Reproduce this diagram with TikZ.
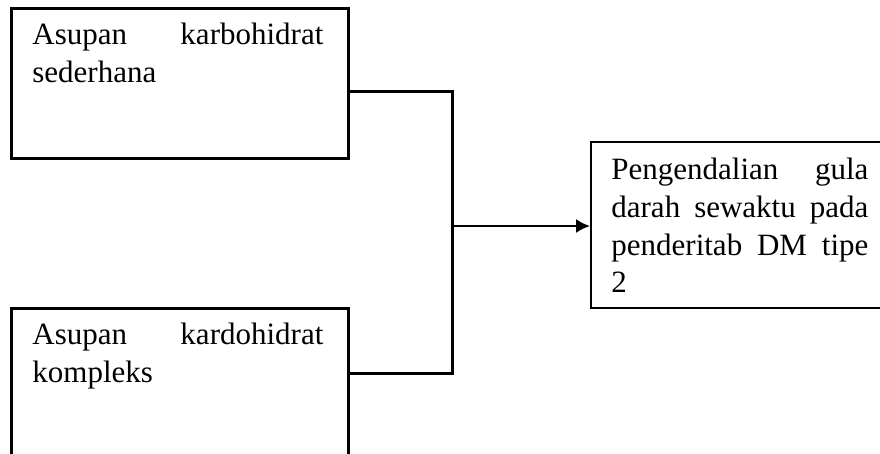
\documentclass[tikz,border=0pt]{standalone}
\usepackage{fontspec}
\setmainfont{Liberation Serif}
\usetikzlibrary{arrows.meta}

\begin{document}
\begin{tikzpicture}[x=0.5pt,y=-0.5pt,>={Latex[length=7pt,width=7pt]},
        box/.style={draw, line width=1.4pt, inner sep=0pt, anchor=north west},
        boxtext/.style={anchor=base west, inner sep=0pt, align=justify,
            font=\fontsize{15.5}{18.8}\selectfont,
            execute at begin node={\hyphenpenalty=10000 \exhyphenpenalty=10000}},
        link/.style={line width=1.5pt}]
            \useasboundingbox (0,0) rectangle (880,454);
            \clip (0,0) rectangle (880,454);

            % the three boxes
            \node[box, minimum width=168.5pt, minimum height=75pt] (simple) at (10,7) {};
            \node[box, minimum width=168.5pt, minimum height=100pt] (complex) at (10,307) {};
            \node[box, line width=1pt, minimum width=160pt, minimum height=83pt] (target) at (590,141) {};

            % text in the boxes
            \node[boxtext, text width=145.5pt] (simpletext) at (32,45) {Asupan karbohidrat\linebreak sederhana};
            \node[boxtext, text width=145.5pt] (complextext) at (32,345) {Asupan kardohidrat\linebreak kompleks};
            \node[boxtext, text width=128.5pt] (targettext) at (611,180) {Pengendalian gula\linebreak darah sewaktu pada\linebreak penderitab DM tipe\linebreak 2};

            % join both inputs
            \coordinate (topend) at (452,92);
            \coordinate (botend) at (452,374);
            \coordinate (join) at (452,226);
            \draw[link] (simple.east |- topend) -- (topend) -- (botend) -- (complex.east |- botend);

            % arrow to the outcome
            \draw[->, line width=1pt] (join) -- (target.west |- join);

        \end{tikzpicture}
\end{document}
